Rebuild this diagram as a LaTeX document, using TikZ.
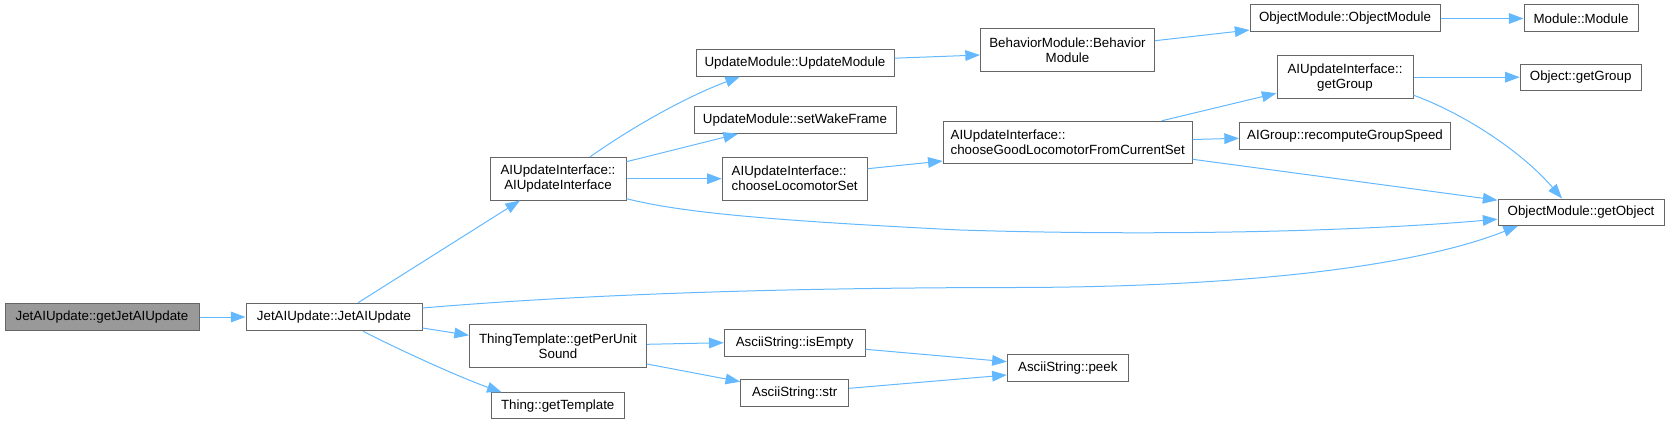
\documentclass[tikz,border=0pt]{standalone}
\usepackage{fontspec}
\setmainfont{Liberation Sans}
\usetikzlibrary{arrows.meta,calc}
\definecolor{edgeblue}{HTML}{63B8FF}
\definecolor{boxgrey}{HTML}{666666}
\definecolor{rootfill}{HTML}{999999}
\tikzset{
  fn/.style={draw=boxgrey, line width=0.75pt, fill=white, inner sep=0pt, align=center,
    font=\fontsize{10pt}{11.25pt}\selectfont, text=black},
  fnleft/.style={fn, align=left},
  rootfn/.style={fn, fill=rootfill},
  call/.style={draw=edgeblue, line width=0.75pt, -{Triangle[length=11pt,width=8pt]}},
}
\begin{document}
\begin{tikzpicture}[x=0.75pt, y=-0.75pt]
\useasboundingbox (0,0) rectangle (1669,424);
% nodes
\node[rootfn, minimum width=145.5pt, minimum height=20.6pt] (root) at (102,317) {JetAIUpdate::getJetAIUpdate};
\node[fn, minimum width=132pt, minimum height=20.6pt] (jet) at (334,317) {JetAIUpdate::JetAIUpdate};
\node[fn, minimum width=102pt, minimum height=32pt] (aiui) at (558,178.7) {AIUpdateInterface::\\AIUpdateInterface};
\node[fn, minimum width=148.5pt, minimum height=20pt] (upd) at (795,62.7) {UpdateModule::UpdateModule};
\node[fn, minimum width=151.5pt, minimum height=20pt] (wake) at (795,120) {UpdateModule::setWakeFrame};
\node[fnleft, minimum width=108.75pt, minimum height=32pt] (cls) at (794.7,178.7) {AIUpdateInterface::\\chooseLocomotorSet};
\node[fn, minimum width=130.5pt, minimum height=32pt] (beh) at (1067.5,50.3) {BehaviorModule::Behavior\\Module};
\node[fnleft, minimum width=186.75pt, minimum height=31.8pt] (cgl) at (1067.7,142.5) {AIUpdateInterface::\\chooseGoodLocomotorFromCurrentSet};
\node[fn, minimum width=142.5pt, minimum height=20.25pt] (objm) at (1345,18.5) {ObjectModule::ObjectModule};
\node[fn, minimum width=85.5pt, minimum height=20.25pt] (mod) at (1581,18.5) {Module::Module};
\node[fn, minimum width=102pt, minimum height=32.25pt] (gg) at (1345,77.2) {AIUpdateInterface::\\getGroup};
\node[fn, minimum width=90.75pt, minimum height=19.75pt] (ogg) at (1580.7,77.2) {Object::getGroup};
\node[fn, minimum width=158.25pt, minimum height=20pt] (rgs) at (1345,135.7) {AIGroup::recomputeGroupSpeed};
\node[fn, minimum width=124.5pt, minimum height=19.75pt] (gobj) at (1581,212.2) {ObjectModule::getObject};
\node[fn, minimum width=132.75pt, minimum height=32.5pt] (tps) at (558,346.3) {ThingTemplate::getPerUnit\\Sound};
\node[fn, minimum width=99.75pt, minimum height=19.5pt] (tgt) at (557.7,405.8) {Thing::getTemplate};
\node[fn, minimum width=105.75pt, minimum height=20pt] (empty) at (794.7,342.7) {AsciiString::isEmpty};
\node[fn, minimum width=81pt, minimum height=20.5pt] (str) at (794.7,393) {AsciiString::str};
\node[fn, minimum width=90.75pt, minimum height=20pt] (peek) at (1067.8,367.7) {AsciiString::peek};
% connectors
\draw[call] (root.east) -- (jet.west);
\draw[call] ($(jet.north)+(24,0)$) -- ($(aiui.south)+(-38,0)$);
\draw[call] ($(jet.east)+(0,-9)$) .. controls (600,293) and (800,288) .. (1000,287.5)
  .. controls (1250,288) and (1420,265) .. ($(gobj.south)+(-63,0)$);
\draw[call] ($(jet.east)+(0,11)$) -- ($(tps.west)+(0,-11)$);
\draw[call] ($(jet.south)+(29,0)$) .. controls +(37,19) and +(-42,-15) .. ($(tgt.north)+(-56,0)$);
\draw[call] ($(aiui.north)+(32,0)$) .. controls +(50,-35) and +(-50,19) .. ($(upd.south)+(-55,0)$);
\draw[call] ($(aiui.east)+(0,-17)$) -- ($(wake.south)+(-57,0)$);
\draw[call] (aiui.east) -- (cls.west);
\draw[call] ($(aiui.east)+(0,20)$) .. controls (680,212) and (760,220) .. (960,230)
  .. controls (1150,236) and (1350,232) .. ($(gobj.west)+(0,7)$);
\draw[call] ($(upd.east)+(0,-4.5)$) -- ($(beh.west)+(0,4.7)$);
\draw[call] ($(beh.east)+(0,-9.6)$) -- ($(objm.west)+(0,11.5)$);
\draw[call] (objm.east) -- (mod.west);
\draw[call] ($(cls.east)+(0,-10)$) -- ($(cgl.west)+(0,18.5)$);
\draw[call] ($(cgl.north)+(94,0)$) -- ($(gg.west)+(0,16)$);
\draw[call] ($(cgl.east)+(0,-3)$) -- ($(rgs.west)+(0,2.6)$);
\draw[call] ($(cgl.east)+(0,16.8)$) -- ($(gobj.west)+(0,-12)$);
\draw[call] (gg.east) -- (ogg.west);
\draw[call] ($(gg.east)+(0,18)$) .. controls +(47,17) and +(-42,-49) .. ($(gobj.north)+(-19,0)$);
\draw[call] ($(tps.east)+(0,-2)$) -- (empty.west);
\draw[call] ($(tps.east)+(0,17.7)$) -- ($(str.west)+(0,-11.3)$);
\draw[call] ($(empty.east)+(0,6.6)$) -- ($(peek.west)+(0,-6)$);
\draw[call] ($(str.east)+(0,-4.7)$) -- ($(peek.west)+(0,7.3)$);
\end{tikzpicture}
\end{document}
